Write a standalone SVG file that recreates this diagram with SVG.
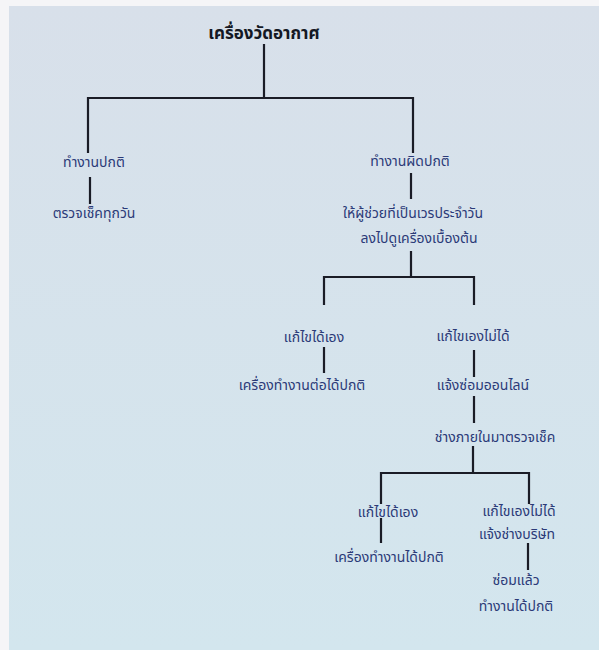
<svg xmlns="http://www.w3.org/2000/svg" width="599" height="650" viewBox="0 0 599 650">
<defs>
<linearGradient id="bg" x1="0" y1="0" x2="0" y2="1">
<stop offset="0" stop-color="#d8e0ea"/>
<stop offset="1" stop-color="#d3e6ee"/>
</linearGradient>
<style>
.t{font-family:"Noto Sans Thai","Noto Sans","DejaVu Sans",sans-serif;font-size:14px;fill:#2b3a78;text-anchor:middle}
.h{font-family:"Noto Sans Thai","Noto Sans","DejaVu Sans",sans-serif;font-size:17px;font-weight:bold;fill:#141824;text-anchor:middle}
.c{stroke:#1a1c26;stroke-width:2.2;fill:none}
</style>
</defs>
<rect width="599" height="650" fill="#f5f5f7"/>
<rect x="9" y="6" width="590" height="644" fill="url(#bg)"/>
<g id="connectors" class="c">
<path d="M264 44V98M87 98H413M88 97V153M413 97V153"/>
<path d="M90 177V204"/>
<path d="M411 173V199"/>
<path d="M411 251V277M324 277H474M324 276V305M474 276V305"/>
<path d="M324 347V373"/>
<path d="M474 350V377"/>
<path d="M474 396V423"/>
<path d="M473 446V473M381 473H529M381 472V504M529 472V504"/>
<path d="M381 518V543"/>
<path d="M528 543V570"/>
</g>
<g id="n-root"><text class="h" x="264" y="39">เครื่องวัดอากาศ</text></g>
<g id="n-normal"><text class="t" x="94" y="167">ทำงานปกติ</text></g>
<g id="n-daily"><text class="t" x="94" y="218">ตรวจเช็คทุกวัน</text></g>
<g id="n-abnormal"><text class="t" x="410" y="166">ทำงานผิดปกติ</text></g>
<g id="n-assistant"><text class="t" x="413" y="218">ให้ผู้ช่วยที่เป็นเวรประจำวัน</text><text class="t" x="419" y="243">ลงไปดูเครื่องเบื้องต้น</text></g>
<g id="n-fix1"><text class="t" x="314" y="342">แก้ไขได้เอง</text></g>
<g id="n-ok1"><text class="t" x="302" y="390">เครื่องทำงานต่อได้ปกติ</text></g>
<g id="n-nofix1"><text class="t" x="473" y="341">แก้ไขเองไม่ได้</text></g>
<g id="n-online"><text class="t" x="483" y="390">แจ้งซ่อมออนไลน์</text></g>
<g id="n-tech"><text class="t" x="495" y="442">ช่างภายในมาตรวจเช็ค</text></g>
<g id="n-fix2"><text class="t" x="388" y="517">แก้ไขได้เอง</text></g>
<g id="n-ok2"><text class="t" x="389" y="562">เครื่องทำงานได้ปกติ</text></g>
<g id="n-nofix2"><text class="t" x="519" y="516">แก้ไขเองไม่ได้</text><text class="t" x="517" y="539">แจ้งช่างบริษัท</text></g>
<g id="n-repaired"><text class="t" x="516" y="585">ซ่อมแล้ว</text><text class="t" x="516" y="611">ทำงานได้ปกติ</text></g>
</svg>
